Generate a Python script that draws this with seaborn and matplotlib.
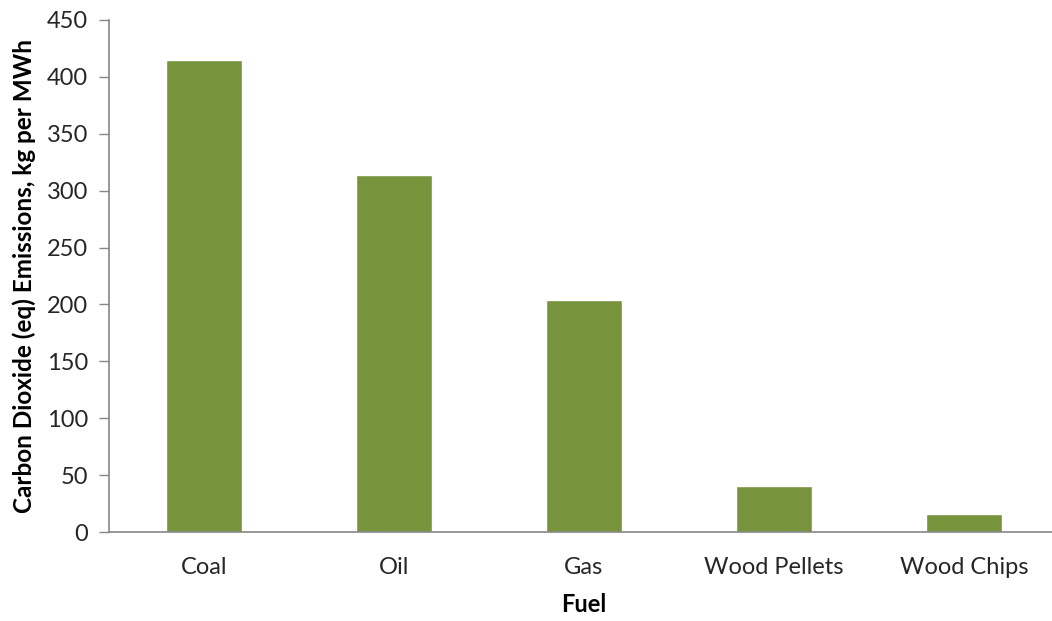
import matplotlib
matplotlib.use('Agg')
import matplotlib.pyplot as plt
import seaborn as sns
import pandas as pd

# Data
fuels = ['Coal', 'Oil', 'Gas', 'Wood Pellets', 'Wood Chips']
emissions = [415, 314, 204, 40, 16]

df = pd.DataFrame({'Fuel': fuels, 'Emissions': emissions})

sns.set_style('white')
plt.rcParams['font.family'] = ['Lato', 'DejaVu Sans']

fig = plt.figure(figsize=(10.52, 6.21), dpi=100)
ax = fig.add_axes([0.1036, 0.1433, 0.903, 0.8245])

sns.barplot(data=df, x='Fuel', y='Emissions', color='#77933C', width=0.4,
            saturation=1, ax=ax)

ax.set_xlim(-0.5, len(fuels) - 0.5)
ax.set_ylim(0, 450)
ax.set_yticks(range(0, 451, 50))

# Excel style: tick marks between categories, none under the labels
ax.set_xticks([i - 0.5 for i in range(len(fuels) + 1)], minor=True)
ax.tick_params(axis='x', which='major', length=0, pad=18, labelsize=17, labelcolor='#262626')
ax.tick_params(axis='x', which='minor', length=7, width=1, color='#868686', direction='out')
ax.tick_params(axis='y', length=7, width=1, color='#868686', direction='out', pad=8,
               labelsize=17, labelcolor='#262626', left=True)

for side in ['top', 'right']:
    ax.spines[side].set_visible(False)
for side in ['left', 'bottom']:
    ax.spines[side].set_color('#868686')
    ax.spines[side].set_linewidth(1.2)

ax.set_xlabel('Fuel', fontsize=17, fontweight='bold', labelpad=11, color='#000000')
ax.set_ylabel('Carbon Dioxide (eq) Emissions, kg per MWh', fontsize=17.5, fontweight='bold',
              labelpad=8, color='#000000')

fig.savefig('out.png', dpi=100)
plt.close()
